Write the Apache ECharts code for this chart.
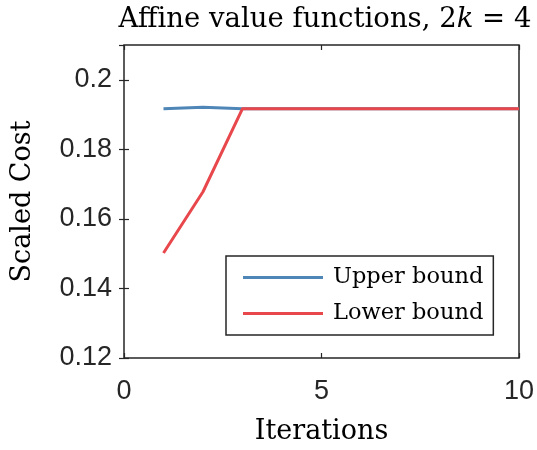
<!DOCTYPE html>
<html>
<head>
<meta charset="utf-8">
<script src="https://cdn.jsdelivr.net/npm/echarts@6/dist/echarts.min.js"></script>
<style>
  html, body { margin: 0; padding: 0; background: #fff; }
  #grafico { width: 537px; height: 450px; }
</style>
</head>
<body>
<div id="grafico"></div>
<script>
const iteracoes = [1, 2, 3, 4, 5, 6, 7, 8, 9, 10];
const limiteSuperior = [0.1917, 0.1921, 0.1917, 0.1917, 0.1917, 0.1917, 0.1917, 0.1917, 0.1917, 0.1917];
const limiteInferior = [0.1502, 0.1678, 0.1917, 0.1917, 0.1917, 0.1917, 0.1917, 0.1917, 0.1917, 0.1917];
const nomesSeries = ["Upper bound", "Lower bound"];

const serif = "'DejaVu Serif', serif";
const sans = "'Liberation Sans', Arial, sans-serif";
const corEixo = "#262626";

const chart = echarts.init(document.getElementById("grafico"));

const eixoEspelho = {
  axisLine: { show: false },
  axisTick: { show: true, inside: true, length: 5, lineStyle: { color: corEixo, width: 1.2 } },
  axisLabel: { show: false },
  splitLine: { show: false }
};

const option = {
  backgroundColor: "#fff",
  animation: false,
  title: {
    text: "Affine value functions, 2{i|k} = 4",
    left: 320,
    top: 1,
    textAlign: "center",
    textStyle: {
      fontFamily: serif, fontSize: 27.5, fontWeight: "normal", color: "#000",
      rich: { i: { fontFamily: serif, fontSize: 27.5, fontStyle: "italic", color: "#000" } }
    }
  },
  grid: {
    left: 124, right: 18, top: 45, bottom: 92,
    outerBoundsMode: "none",
    containLabel: false,
    show: true, borderColor: corEixo, borderWidth: 1.5
  },
  legend: {
    orient: "vertical",
    left: 226,
    top: 256,
    data: nomesSeries,
    icon: "rect",
    itemWidth: 80,
    itemHeight: 3,
    itemGap: 13,
    padding: [10, 10, 10, 17],
    borderColor: corEixo,
    borderWidth: 1.5,
    backgroundColor: "#fff",
    textStyle: { fontFamily: serif, fontSize: 22.5, color: "#000", padding: [0, 0, 0, 5] }
  },
  xAxis: [
    {
      type: "value", min: 0, max: 10, interval: 5,
      name: "Iterations", nameLocation: "middle", nameGap: 60,
      nameTextStyle: { fontFamily: serif, fontSize: 27, color: "#000" },
      axisLine: { show: false },
      axisTick: { inside: true, length: 5, lineStyle: { color: corEixo, width: 1.2 } },
      axisLabel: { fontFamily: sans, fontSize: 27, color: "#262626", margin: 20 },
      splitLine: { show: false }
    },
    Object.assign({ type: "value", min: 0, max: 10, interval: 5, position: "top" }, eixoEspelho)
  ],
  yAxis: [
    {
      type: "value", min: 0.12, max: 0.21, interval: 0.02,
      name: "Scaled Cost", nameLocation: "middle", nameGap: 88,
      nameTextStyle: { fontFamily: serif, fontSize: 27, color: "#000" },
      axisLine: { show: false },
      axisTick: { inside: true, length: 5, lineStyle: { color: corEixo, width: 1.2 } },
      axisLabel: {
        fontFamily: sans, fontSize: 27, color: "#262626", margin: 12,
        showMaxLabel: false,
        formatter: (v) => (Math.round(v * 100) / 100).toString()
      },
      splitLine: { show: false }
    },
    Object.assign({ type: "value", min: 0.12, max: 0.21, interval: 0.02, position: "right" }, eixoEspelho)
  ],
  series: [
    {
      name: nomesSeries[0],
      type: "line",
      data: iteracoes.map((x, i) => [x, limiteSuperior[i]]),
      showSymbol: false,
      color: "#4f86b8",
      lineStyle: { width: 3, color: "#4f86b8" }
    },
    {
      name: nomesSeries[1],
      type: "line",
      data: iteracoes.map((x, i) => [x, limiteInferior[i]]),
      showSymbol: false,
      color: "#e8474c",
      lineStyle: { width: 3, color: "#e8474c" }
    }
  ]
};

chart.setOption(option);
</script>
</body>
</html>
